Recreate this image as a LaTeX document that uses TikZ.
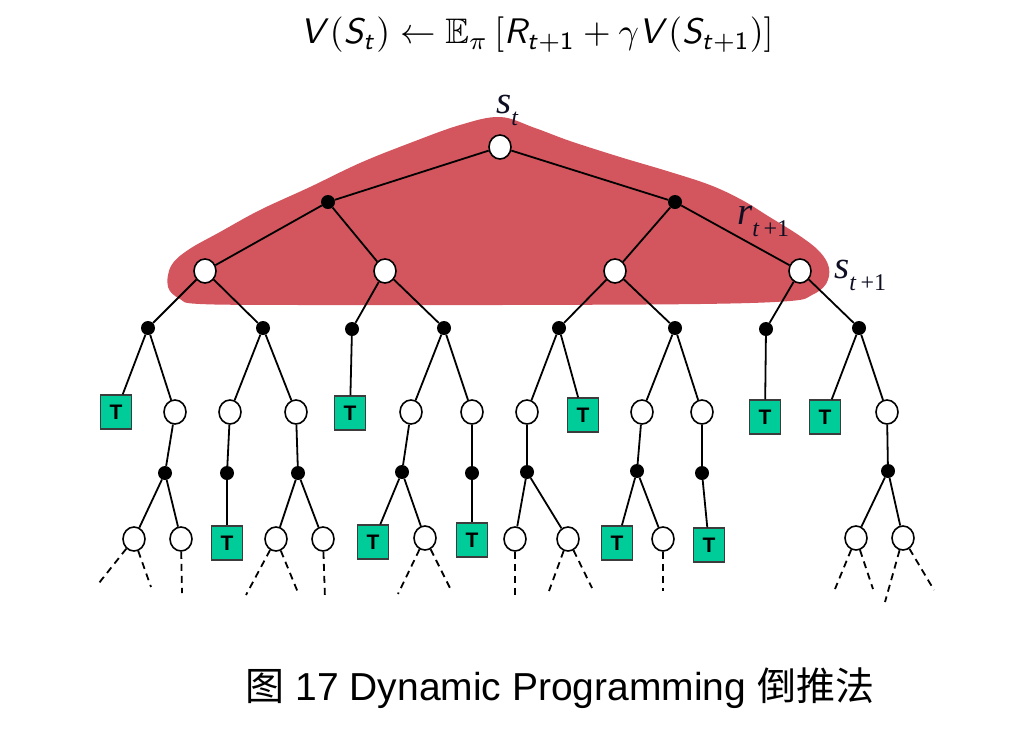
\documentclass[tikz,border=0pt]{standalone}
\usepackage{amsmath,amssymb}
\usepackage{fontspec}
\newfontfamily\arialf{Liberation Sans}
\newfontfamily\timesf{Liberation Serif}
\newfontfamily\cjkf{Noto Sans CJK SC}
\DeclareMathAlphabet{\mathsfit}{OT1}{cmss}{m}{sl}
\usetikzlibrary{shapes.geometric}
\definecolor{blob}{RGB}{211,85,94}
\definecolor{termfill}{RGB}{0,204,153}
\definecolor{termdraw}{RGB}{60,60,60}
\definecolor{labcol}{RGB}{15,15,35}
\newcommand\treelab[2]{{\timesf\fontsize{39}{39}\selectfont\itshape #1}\raisebox{-12pt}{\timesf\fontsize{24}{24}\selectfont #2}}
\tikzset{
  st/.style={ellipse,draw=black,fill=white,line width=1.6pt,minimum width=22pt,minimum height=24pt,inner sep=0pt},
  act/.style={circle,fill=black,minimum size=14pt,inner sep=0pt},
  term/.style={rectangle,draw=termdraw,fill=termfill,line width=1.3pt,minimum width=31pt,minimum height=34pt,inner sep=0pt,font=\arialf\bfseries\fontsize{21}{21}\selectfont},
  edge/.style={line width=1.8pt,black},
  cont/.style={line width=1.8pt,black,dash pattern=on 7pt off 5pt}
}
\begin{document}
\begin{tikzpicture}[x=1pt,y=-1pt]
\useasboundingbox (0,0) rectangle (1023,729);
% blob
\fill[blob] plot[smooth cycle,tension=0.6] coordinates {
(500,117) (535,128) (570,141) (620,157) (667,171) (710,185) (742,200) (768,216) (800,236) (820,252) (829,268) (826,284) (812,295) (790,301) (700,304) (500,305) (300,305) (200,304) (180,299) (168,287) (171,266) (188,250) (220,232) (260,210) (310,187) (360,163) (410,143) (460,125)};
% formula
\node (formula) at (537,35) {\scalebox{3.55}{$\mathsfit{V}(\mathsfit{S}_{\mathsfit{t}})\leftarrow\mathbb{E}_{\pi}\left[\mathsfit{R}_{\mathsfit{t}+\mathsf{1}}+\gamma\mathsfit{V}(\mathsfit{S}_{\mathsfit{t}+\mathsf{1}})\right]$}};
% nodes
\node[st] (root) at (500,147) {};
\node[act] (a1) at (328,202) {};
\node[act] (a2) at (675,202) {};
\node[st] (s1) at (205,271) {};
\node[st] (s2) at (385,271) {};
\node[st] (s3) at (615,271) {};
\node[st] (s4) at (800,271) {};
\node[act] (b1) at (148,328) {};
\node[act] (b2) at (263,328) {};
\node[act] (b3) at (352,329) {};
\node[act] (b4) at (444,328) {};
\node[act] (b5) at (559,328) {};
\node[act] (b6) at (675,328) {};
\node[act] (b7) at (766,329) {};
\node[act] (b8) at (859,328) {};
\node[term] (T1) at (116,412) {T};
\node[st] (c1) at (175,412) {};
\node[st] (c2) at (230,412) {};
\node[st] (c3) at (296,412) {};
\node[term] (T2) at (350,413) {T};
\node[st] (c4) at (411,412) {};
\node[st] (c5) at (472,412) {};
\node[st] (c6) at (527,412) {};
\node[term] (T3) at (583,415) {T};
\node[st] (c7) at (642,412) {};
\node[st] (c8) at (702,412) {};
\node[term] (T4) at (765,417) {T};
\node[term] (T5) at (825,417) {T};
\node[st] (c9) at (887,412) {};
\node[act] (d1) at (165,473) {};
\node[act] (d2) at (227,473) {};
\node[act] (d3) at (298,473) {};
\node[act] (d4) at (402,472) {};
\node[act] (d5) at (472,473) {};
\node[act] (d6) at (527,472) {};
\node[act] (d7) at (637,471) {};
\node[act] (d8) at (702,473) {};
\node[act] (d9) at (888,471) {};
\node[st] (e1) at (134,539) {};
\node[st] (e2) at (181,539) {};
\node[term] (T6) at (227,543) {T};
\node[st] (e3) at (276,539) {};
\node[st] (e4) at (323,539) {};
\node[term] (T7) at (373,542) {T};
\node[st] (e5) at (425,538) {};
\node[term] (T8) at (472,540) {T};
\node[st] (e6) at (515,539) {};
\node[st] (e7) at (568,539) {};
\node[term] (T9) at (617,543) {T};
\node[st] (e8) at (663,539) {};
\node[term] (T10) at (709,545) {T};
\node[st] (e9) at (856,538) {};
\node[st] (e10) at (903,538) {};
% edges
\draw[edge] (root) -- (a1); \draw[edge] (root) -- (a2);
\draw[edge] (a1) -- (s1); \draw[edge] (a1) -- (s2);
\draw[edge] (a2) -- (s3); \draw[edge] (a2) -- (s4);
\draw[edge] (s1) -- (b1); \draw[edge] (s1) -- (b2);
\draw[edge] (s2) -- (b3); \draw[edge] (s2) -- (b4);
\draw[edge] (s3) -- (b5); \draw[edge] (s3) -- (b6);
\draw[edge] (s4) -- (b7); \draw[edge] (s4) -- (b8);
\draw[edge] (b1) -- (T1); \draw[edge] (b1) -- (c1);
\draw[edge] (b2) -- (c2); \draw[edge] (b2) -- (c3);
\draw[edge] (b3) -- (T2);
\draw[edge] (b4) -- (c4); \draw[edge] (b4) -- (c5);
\draw[edge] (b5) -- (c6); \draw[edge] (b5) -- (T3);
\draw[edge] (b6) -- (c7); \draw[edge] (b6) -- (c8);
\draw[edge] (b7) -- (T4);
\draw[edge] (b8) -- (T5); \draw[edge] (b8) -- (c9);
\draw[edge] (c1) -- (d1); \draw[edge] (c2) -- (d2); \draw[edge] (c3) -- (d3);
\draw[edge] (c4) -- (d4); \draw[edge] (c5) -- (d5); \draw[edge] (c6) -- (d6);
\draw[edge] (c7) -- (d7); \draw[edge] (c8) -- (d8); \draw[edge] (c9) -- (d9);
\draw[edge] (d1) -- (e1); \draw[edge] (d1) -- (e2);
\draw[edge] (d2) -- (T6);
\draw[edge] (d3) -- (e3); \draw[edge] (d3) -- (e4);
\draw[edge] (d4) -- (T7); \draw[edge] (d4) -- (e5);
\draw[edge] (d5) -- (T8);
\draw[edge] (d6) -- (e6); \draw[edge] (d6) -- (e7);
\draw[edge] (d7) -- (T9); \draw[edge] (d7) -- (e8);
\draw[edge] (d8) -- (T10);
\draw[edge] (d9) -- (e9); \draw[edge] (d9) -- (e10);
% continuation ends
\coordinate (f1) at (99,583); \coordinate (f2) at (151,587);
\coordinate (f3) at (182,593);
\coordinate (f4) at (246,595); \coordinate (f5) at (299,595);
\coordinate (f6) at (325,599);
\coordinate (f7) at (398,594); \coordinate (f8) at (451,590);
\coordinate (f9) at (515,599);
\coordinate (f10) at (549,591); \coordinate (f11) at (592,588);
\coordinate (f12) at (663,591);
\coordinate (f13) at (835,589); \coordinate (f14) at (873,589);
\coordinate (f15) at (885,602); \coordinate (f16) at (934,590);
\draw[cont] (e1) -- (f1); \draw[cont] (e1) -- (f2);
\draw[cont] (e2) -- (f3);
\draw[cont] (e3) -- (f4); \draw[cont] (e3) -- (f5);
\draw[cont] (e4) -- (f6);
\draw[cont] (e5) -- (f7); \draw[cont] (e5) -- (f8);
\draw[cont] (e6) -- (f9);
\draw[cont] (e7) -- (f10); \draw[cont] (e7) -- (f11);
\draw[cont] (e8) -- (f12);
\draw[cont] (e9) -- (f13); \draw[cont] (e9) -- (f14);
\draw[cont] (e10) -- (f15); \draw[cont] (e10) -- (f16);
% labels
\node[anchor=base west,inner sep=0pt,text=labcol] (lst) at (496,113) {\treelab{s}{\textit{t}}};
\node[anchor=base west,inner sep=0pt,text=labcol] (lrt) at (737,224) {\treelab{r}{\textit{t}\,+1}};
\node[anchor=base west,inner sep=0pt,text=labcol] (lst1) at (834,278) {\treelab{s}{\textit{t}\,+1}};
% caption
\node (caption) at (560,688) {\arialf\fontsize{39}{45}\selectfont{\cjkf 图} 17 Dynamic Programming {\cjkf 倒推法}};
\end{tikzpicture}
\end{document}
